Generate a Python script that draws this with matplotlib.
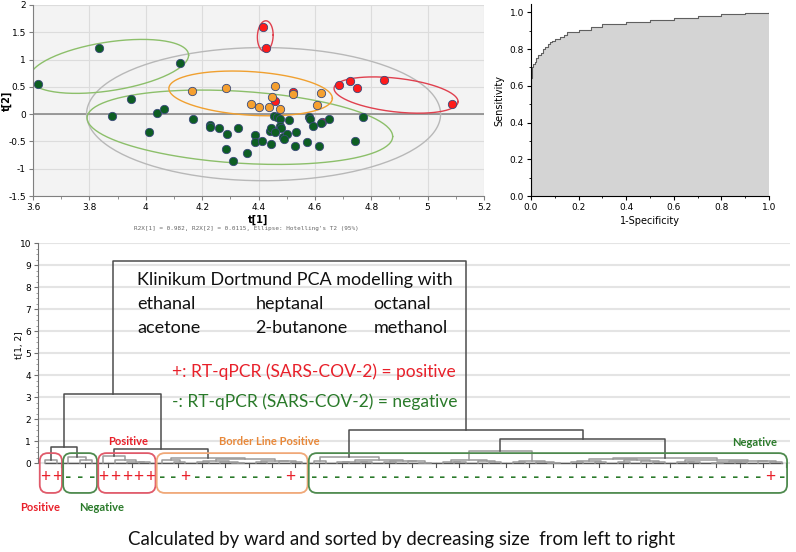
import matplotlib
matplotlib.use("Agg")
import matplotlib.pyplot as plt
from matplotlib.patches import FancyBboxPatch
from matplotlib.ticker import MultipleLocator, FormatStrFormatter, FixedLocator
import numpy as np

# ---- PCA scores t[1] / t[2]
neg_t1 = [3.618, 3.833, 4.122, 3.949, 3.879, 4.039, 4.065, 4.013, 4.167, 4.229, 4.229,
          4.259, 4.288, 4.284, 4.329, 4.310, 4.360, 4.389, 4.387, 4.413, 4.440, 4.445,
          4.443, 4.455, 4.467, 4.476, 4.476, 4.479, 4.458, 4.488, 4.500, 4.490, 4.509,
          4.532, 4.529, 4.573, 4.579, 4.582, 4.592, 4.615, 4.621, 4.650, 4.742, 4.769]
neg_t2 = [0.55, 1.21, 0.94, 0.27, -0.03, 0.02, 0.10, -0.32, -0.09, -0.20, -0.24,
          -0.25, -0.37, -0.64, -0.26, -0.85, -0.71, -0.38, -0.51, -0.50, -0.30, -0.26,
          -0.54, -0.03, -0.05, -0.09, -0.22, -0.26, -0.32, -0.41, -0.37, -0.45, -0.10,
          -0.32, -0.59, -0.51, -0.05, -0.09, -0.21, -0.59, -0.16, -0.09, -0.49, -0.06]
bl_t1 = [4.164, 4.283, 4.374, 4.403, 4.439, 4.449, 4.457, 4.478, 4.523, 4.609, 4.623]
bl_t2 = [0.43, 0.47, 0.18, 0.13, 0.13, 0.32, 0.51, 0.09, 0.37, 0.16, 0.38]
pos_t1 = [4.417, 4.427, 4.459, 4.523, 4.627, 4.687, 4.725, 4.751, 4.846, 5.085]
pos_t2 = [1.60, 1.21, 0.24, 0.41, -0.14, 0.54, 0.60, 0.48, 0.62, 0.18]

# Hotelling T2 ellipses: centre, vector to the right-most point, vertical half chord
ell_cx = [4.418, 3.870, 4.334, 4.372, 4.888, 4.424]
ell_cy = [0.00, 0.875, -0.24, 0.38, 0.35, 1.43]
ell_ux = [0.628, 0.282, 0.542, 0.290, 0.220, 0.028]
ell_uy = [0.00, 0.205, -0.17, -0.09, -0.12, 0.02]
ell_b = [1.22, 0.45, 0.66, 0.40, 0.31, 0.28]

# ---- ROC curve
fpr = [0, 0, 0.005, 0.01, 0.015, 0.02, 0.03, 0.04, 0.05, 0.06, 0.07, 0.08, 0.09, 0.10,
       0.12, 0.14, 0.15, 0.20, 0.25, 0.30, 0.40, 0.50, 0.60, 0.70, 0.80, 0.90, 1.0]
tpr = [0, 0.64, 0.70, 0.72, 0.73, 0.75, 0.77, 0.78, 0.80, 0.81, 0.83, 0.84, 0.845, 0.855,
       0.865, 0.875, 0.895, 0.905, 0.92, 0.935, 0.945, 0.96, 0.97, 0.98, 0.99, 0.995, 1.0]

# ---- Ward dendrogram: node = (height, left, right), L = one sample
L = None
tree = (9.2,
        (3.15,
         (0.73,
          (0.14, L, L),
          (0.28, L, (0.12, L, L))),
         (0.65,
          (0.30, L, (0.12, L, (0.06, L, (0.03, L, L)))),
          (0.24,
           (0.12, L, (0.05, L, L)),
           (0.17,
            (0.08, (0.04, L, L), (0.06, L, (0.02, L, L))),
            (0.10, (0.05, L, L), (0.07, L, (0.03, L, L))))))),
        (1.5,
         (0.27,
          (0.10, L, L),
          (0.14,
           (0.06, (0.03, L, L), (0.04, L, L)),
           (0.10, (0.05, L, L), (0.07, L, (0.02, L, L))))),
         (1.1,
          (0.55,
           (0.12, (0.06, L, (0.03, L, L)), (0.08, L, (0.04, L, L))),
           (0.10, (0.05, L, L), (0.06, L, (0.02, L, L)))),
          (0.22,
           (0.20, (0.08, (0.04, L, L), (0.05, L, L)),
            (0.12, (0.06, L, L), (0.09, L, (0.03, L, L)))),
           (0.13, (0.06, L, (0.03, L, L)),
            (0.10, (0.05, (0.02, L, L), (0.04, L, L)), (0.07, L, (0.04, L, L))))))))

leaf_signs = list("++" "---" "+++++" "--+--------+-" + "-" * 39 + "+-")
group_sizes = [2, 3, 5, 13, 41]
group_kind = ["pos", "neg", "pos", "border", "neg"]

RED = "#e8202a"
GREEN = "#2a7a2a"
ORANGE = "#e8883a"
W, H = 796, 552


def fx(px):
    return px / W


def fy(py):
    return 1 - py / H


fig = plt.figure(figsize=(W / 100, H / 100), dpi=100, facecolor="white")

# ================= PCA score plot
ax1 = fig.add_axes([fx(33), fy(196), fx(484) - fx(33), fy(5) - fy(196)])
ax1.set_facecolor("#f3f3f3")
ax1.set_xlim(3.6, 5.2)
ax1.set_ylim(-1.5, 2)
ax1.xaxis.set_major_locator(MultipleLocator(0.2))
ax1.xaxis.set_minor_locator(MultipleLocator(0.1))
ax1.yaxis.set_major_locator(MultipleLocator(0.5))
ax1.xaxis.set_major_formatter(FormatStrFormatter("%g"))
ax1.yaxis.set_major_formatter(FormatStrFormatter("%g"))
ax1.grid(True, which="major", color="#dcdcdc", lw=0.8)
ax1.set_axisbelow(True)
for s in ["top", "right"]:
    ax1.spines[s].set_visible(False)
for s in ["left", "bottom"]:
    ax1.spines[s].set_color("#808080")
ax1.tick_params(labelsize=6.5, length=3, color="#808080", pad=2)
ax1.tick_params(which="minor", length=2, color="#808080")
ax1.axhline(0, color="#8a8a8a", lw=1.2, zorder=1.5)

t = np.linspace(0, 2 * np.pi, 200)
ell_col = ["#b8b8b8", "#8cbf6a", "#8cbf6a", "#f0a030", "#e0404e", "#e0404e"]
for cx, cy, ux, uy, b, c in zip(ell_cx, ell_cy, ell_ux, ell_uy, ell_b, ell_col):
    ax1.plot(cx + ux * np.cos(t), cy + uy * np.cos(t) + b * np.sin(t), color=c, lw=1.0, zorder=2)

mk = dict(s=36, edgecolors="#3a4a7a", linewidths=0.6, zorder=3, clip_on=False)
ax1.scatter(pos_t1, pos_t2, c="#ff1a1a", **mk)
ax1.scatter(bl_t1, bl_t2, c="#f5a030", **mk)
ax1.scatter(neg_t1, neg_t2, c="#0d5e22", **mk)
ax1.set_xlabel("t[1]", fontsize=7, fontweight="bold", labelpad=2)
ax1.set_ylabel("t[2]", fontsize=7, fontweight="bold")
ax1.yaxis.set_label_coords(-0.047, 0.5)
fig.text(fx(246), fy(228), "R2X[1] = 0.982, R2X[2] = 0.0115, Ellipse: Hotelling's T2 (95%)",
         fontsize=4.3, family="DejaVu Sans Mono", color="#666666", ha="center", va="center")

# ================= ROC
ax2 = fig.add_axes([fx(531), fy(196), fx(769) - fx(531), fy(4) - fy(196)])
ax2.fill_between(fpr, tpr, step="post", color="#d4d4d4", lw=0)
ax2.step(fpr, tpr, where="post", color="#606060", lw=0.8)
ax2.set_xlim(0, 1.0)
ax2.set_ylim(0, 1.045)
ax2.xaxis.set_major_locator(MultipleLocator(0.2))
ax2.xaxis.set_minor_locator(MultipleLocator(0.1))
ax2.yaxis.set_major_locator(MultipleLocator(0.2))
ax2.yaxis.set_minor_locator(MultipleLocator(0.1))
ax2.xaxis.set_major_formatter(FormatStrFormatter("%.1f"))
ax2.yaxis.set_major_formatter(FormatStrFormatter("%.1f"))
for s in ["top", "right"]:
    ax2.spines[s].set_visible(False)
ax2.tick_params(labelsize=6.5, length=3, pad=2)
ax2.tick_params(which="minor", length=1.5)
ax2.set_xlabel("1-Specificity", fontsize=7, labelpad=3)
ax2.set_ylabel("Sensitivity", fontsize=7, labelpad=4)

# ================= dendrogram
ax3 = fig.add_axes([fx(38), fy(520), fx(790) - fx(38), fy(243) - fy(520)])
ax3.set_xlim(-0.6, 63.7)
ax3.set_ylim(-2.59, 10)
ax3.set_yticks(range(0, 11))
ax3.yaxis.set_minor_locator(FixedLocator(np.arange(0, 10.01, 0.25)))
ax3.set_xticks([])
for s in ["top", "right", "bottom"]:
    ax3.spines[s].set_visible(False)
ax3.spines["left"].set_bounds(0, 10)
ax3.spines["left"].set_color("#707070")
ax3.tick_params(axis="y", labelsize=6.5, length=3, color="#707070", pad=2)
ax3.tick_params(axis="y", which="minor", length=1.5, color="#909090")
ax3.grid(True, axis="y", which="major", color="#e4e4e4", lw=1.5)
ax3.set_axisbelow(True)
ax3.set_ylabel("t[1, 2]", fontsize=6.5)
ax3.yaxis.set_label_coords(-0.019, 0.632)

segs = []


def layout(node, pos):
    if node is None:
        x = pos[0]
        pos[0] += 1
        return x, 0.0
    h, left, right = node
    xl, hl = layout(left, pos)
    xr, hr = layout(right, pos)
    segs.append((xl, xr, hl, hr, h))
    return (xl + xr) / 2, h


layout(tree, [0])
n_leaves = len(leaf_signs)
ax3.plot([0, n_leaves - 1], [0, 0], color="#555555", lw=1.0, zorder=2)
for xt in np.arange(1, n_leaves, 2) + 0.4:
    ax3.plot([xt, xt], [0, -0.2], color="#555555", lw=0.8, zorder=2)
for xl, xr, hl, hr, h in segs:
    col = "#4d4d4d" if h >= 0.6 else "#9a9a9a"
    ax3.plot([xl, xl, xr, xr], [hl, h, h, hr], color=col, lw=1.1, zorder=3)

for i, s in enumerate(leaf_signs):
    ax3.text(i, -0.64, s, color=RED if s == "+" else GREEN, ha="center", va="center",
             fontsize=12.5, family="Lato", fontweight="bold" if s == "-" else "normal", zorder=4)

box_col = {"pos": "#e05a6a", "neg": "#4e8a4e", "border": "#f0a878"}
start = 0
for n, kind in zip(group_sizes, group_kind):
    box = FancyBboxPatch((start - 0.45, -1.36), n - 0.1, 1.81,
                         boxstyle="round,pad=0,rounding_size=0.7", mutation_aspect=0.53,
                         fc="none", ec=box_col[kind], lw=1.3, zorder=4)
    ax3.add_patch(box)
    start += n

txt = dict(family="Lato", fontsize=13, color="#111111", va="center", ha="left")
ax3.text(7.86, 8.32, "Klinikum Dortmund PCA modelling with", **txt)
ax3.text(7.86, 7.23, "ethanal", **txt)
ax3.text(18.0, 7.23, "heptanal", **txt)
ax3.text(28.1, 7.23, "octanal", **txt)
ax3.text(7.86, 6.14, "acetone", **txt)
ax3.text(18.0, 6.14, "2-butanone", **txt)
ax3.text(28.1, 6.14, "methanol", **txt)
txt["fontsize"] = 12.5
txt["color"] = RED
ax3.text(10.85, 4.14, "+: RT-qPCR (SARS-COV-2) = positive", **txt)
txt["color"] = GREEN
ax3.text(10.85, 2.77, "-: RT-qPCR (SARS-COV-2) = negative", **txt)

lab = dict(family="Lato", fontsize=8, fontweight="bold", ha="center", va="center")
ax3.text(7.1, 1.0, "Positive", color=RED, **lab)
ax3.text(19.2, 1.0, "Border Line Positive", color=ORANGE, **lab)
ax3.text(60.7, 0.95, "Negative", color=GREEN, **lab)
ax3.text(-0.43, -2.0, "Positive", color=RED, **lab)
ax3.text(4.8, -2.0, "Negative", color=GREEN, **lab)

fig.text(fx(402), fy(540), "Calculated by ward and sorted by decreasing size  from left to right",
         family="Lato", fontsize=13.4, color="#111111", ha="center", va="center")

fig.savefig("out.png", dpi=100, facecolor="white")
